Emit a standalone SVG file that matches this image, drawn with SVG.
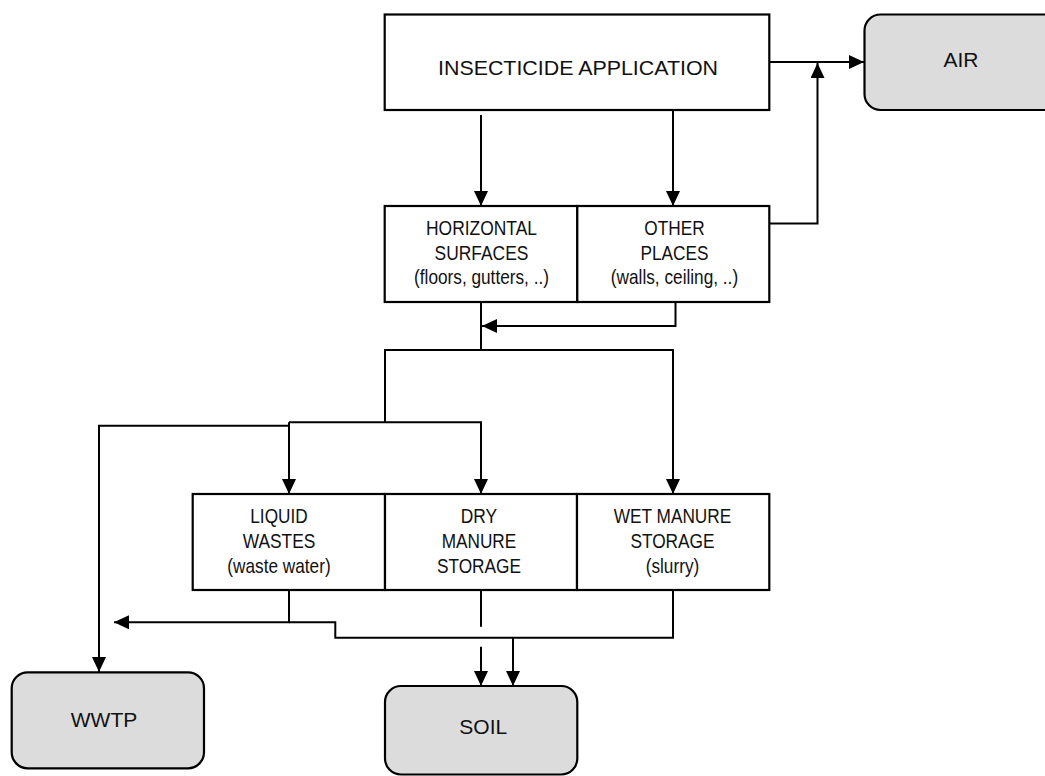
<svg xmlns="http://www.w3.org/2000/svg" width="1045" height="776" viewBox="0 0 1045 776">
<defs>
<style>
.box{fill:#ffffff;stroke:#000;stroke-width:2.2}
.sink{fill:#dcdcdc;stroke:#000;stroke-width:2.2}
.c{fill:none;stroke:#000;stroke-width:2}
.t{font-family:"Liberation Sans",Arial,sans-serif;font-size:21px;fill:#111;text-anchor:middle}
.n{font-family:"Liberation Sans Narrow","Arial Narrow","Liberation Sans",sans-serif;font-size:21px;fill:#111;text-anchor:middle}
</style>
<marker id="ah" markerUnits="userSpaceOnUse" markerWidth="15" markerHeight="14" refX="15" refY="7" orient="auto">
<path d="M0,0 L15,7 L0,14 z" fill="#000"/>
</marker>
</defs>
<rect width="1045" height="776" fill="#fff"/>
<g id="connectors">
<path class="c" d="M769,62 H864" marker-end="url(#ah)"/>
<path class="c" d="M769,223.5 H817.5 V63" marker-end="url(#ah)"/>
<path class="c" d="M481,115 V206" marker-end="url(#ah)"/>
<path class="c" d="M673,110 V206" marker-end="url(#ah)"/>
<path class="c" d="M675.5,302 V326 H482" marker-end="url(#ah)"/>
<path class="c" d="M481,302 V350"/>
<path class="c" d="M385,422.3 V350 H673 V494" marker-end="url(#ah)"/>
<path class="c" d="M289,422.3 H481 V494" marker-end="url(#ah)"/>
<path class="c" d="M289,422.3 V494" marker-end="url(#ah)"/>
<path class="c" d="M289,425.7 H99 V672" marker-end="url(#ah)"/>
<path class="c" d="M289,590 V622.3 H114" marker-end="url(#ah)"/>
<path class="c" d="M673,590 V637.7 H335.3 V622.3 H289"/>
<path class="c" d="M481,590 V626.7"/>
<path class="c" d="M481,646.7 V686" marker-end="url(#ah)"/>
<path class="c" d="M513,637.7 V686" marker-end="url(#ah)"/>
</g>
<g id="insecticide-application">
<rect class="box" x="384.7" y="14.5" width="384.6" height="95.5"/>
<text class="t" x="578" y="75" textLength="280" lengthAdjust="spacingAndGlyphs">INSECTICIDE APPLICATION</text>
</g>
<g id="air">
<rect class="sink" x="864.5" y="14.5" width="220" height="95.5" rx="16" ry="16"/>
<text class="t" x="961" y="67">AIR</text>
</g>
<g id="horizontal-surfaces">
<rect class="box" x="384.7" y="206" width="192.6" height="96"/>
<text class="n" x="481.5" y="235" textLength="111" lengthAdjust="spacingAndGlyphs">HORIZONTAL</text>
<text class="n" x="481.5" y="259.5" textLength="93.8" lengthAdjust="spacingAndGlyphs">SURFACES</text>
<text class="n" x="481.5" y="284" textLength="134.9" lengthAdjust="spacingAndGlyphs">(floors, gutters, ..)</text>
</g>
<g id="other-places">
<rect class="box" x="577.3" y="206" width="192" height="96"/>
<text class="n" x="674.5" y="235" textLength="60.3" lengthAdjust="spacingAndGlyphs">OTHER</text>
<text class="n" x="674.5" y="259.5" textLength="67.9" lengthAdjust="spacingAndGlyphs">PLACES</text>
<text class="n" x="674.5" y="284" textLength="127.3" lengthAdjust="spacingAndGlyphs">(walls, ceiling, ..)</text>
</g>
<g id="liquid-wastes">
<rect class="box" x="192.7" y="494" width="192.3" height="96"/>
<text class="n" x="279" y="523" textLength="57.4" lengthAdjust="spacingAndGlyphs">LIQUID</text>
<text class="n" x="279" y="548" textLength="72.7" lengthAdjust="spacingAndGlyphs">WASTES</text>
<text class="n" x="279" y="573" textLength="103.3" lengthAdjust="spacingAndGlyphs">(waste water)</text>
</g>
<g id="dry-manure-storage">
<rect class="box" x="385" y="494" width="192" height="96"/>
<text class="n" x="479" y="523" textLength="36.4" lengthAdjust="spacingAndGlyphs">DRY</text>
<text class="n" x="479" y="548" textLength="74.6" lengthAdjust="spacingAndGlyphs">MANURE</text>
<text class="n" x="479" y="573" textLength="84.2" lengthAdjust="spacingAndGlyphs">STORAGE</text>
</g>
<g id="wet-manure-storage">
<rect class="box" x="577" y="494" width="192.3" height="96"/>
<text class="n" x="672.5" y="523" textLength="117.7" lengthAdjust="spacingAndGlyphs">WET MANURE</text>
<text class="n" x="672.5" y="548" textLength="84.2" lengthAdjust="spacingAndGlyphs">STORAGE</text>
<text class="n" x="672.5" y="573" textLength="53.6" lengthAdjust="spacingAndGlyphs">(slurry)</text>
</g>
<g id="wwtp">
<rect class="sink" x="11.7" y="672.3" width="192.3" height="96" rx="16" ry="16"/>
<text class="t" x="104" y="727">WWTP</text>
</g>
<g id="soil">
<rect class="sink" x="385" y="686" width="192.3" height="88.5" rx="16" ry="16"/>
<text class="t" x="483.3" y="734">SOIL</text>
</g>
</svg>
